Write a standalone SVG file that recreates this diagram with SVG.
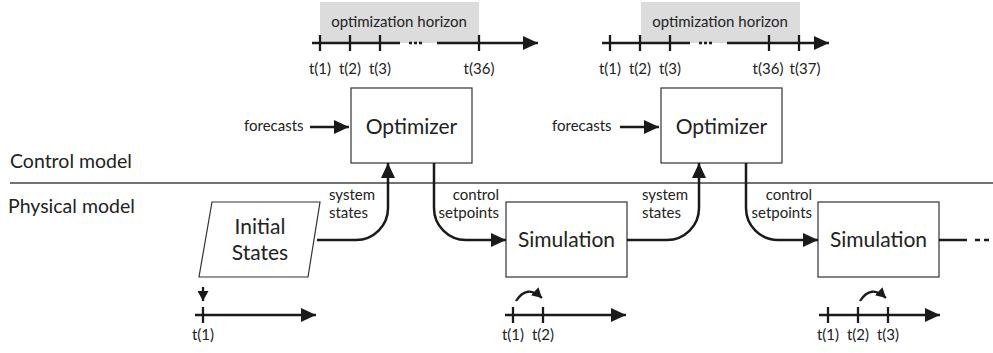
<svg xmlns="http://www.w3.org/2000/svg" width="993" height="353" viewBox="0 0 993 353">
<defs>
<style>
text{font-family:Lato,"Open Sans","Liberation Sans",sans-serif;fill:#222}
.lbl{font-size:15px}
.big{font-size:21px}
.sec{font-size:19.5px}
.box{fill:#fff;stroke:#333;stroke-width:1.2}
.ax{fill:none;stroke:#1a1a1a;stroke-width:2.3}
.tk{stroke:#1a1a1a;stroke-width:2.3}
.dots{stroke:#1a1a1a;stroke-width:2.5;stroke-dasharray:3 2}
.cn{fill:none;stroke:#1a1a1a;stroke-width:2.5}
</style>
<marker id="ah" markerUnits="userSpaceOnUse" markerWidth="16" markerHeight="14" refX="15" refY="7" orient="auto"><path d="M0,0 L15,7 L0,14 Z" fill="#1a1a1a"/></marker>
<marker id="ahs" markerUnits="userSpaceOnUse" markerWidth="11" markerHeight="11" refX="10" refY="5.5" orient="auto"><path d="M0,0 L10,5.5 L0,11 Z" fill="#1a1a1a"/></marker>
</defs>
<rect width="993" height="353" fill="#fff"/>

<g id="sections">
<line x1="10" y1="183" x2="993" y2="183" stroke="#444" stroke-width="1.3"/>
<text class="sec" x="10" y="168">Control model</text>
<text class="sec" x="8" y="213">Physical model</text>
</g>

<g id="horizon1">
<rect x="320" y="2" width="159" height="41" fill="#dcdcdc"/>
<text class="lbl" x="399" y="27" text-anchor="middle">optimization horizon</text>
<path class="ax" d="M312,43 H400 M437,43 H538" marker-end="url(#ah)"/>
<line class="dots" x1="409" y1="43" x2="423" y2="43"/>
<path class="tk" d="M320,35 V51 M350,35 V51 M380,35 V51 M479,35 V51"/>
<text class="lbl" x="320" y="74" text-anchor="middle">t(1)</text>
<text class="lbl" x="350" y="74" text-anchor="middle">t(2)</text>
<text class="lbl" x="380" y="74" text-anchor="middle">t(3)</text>
<text class="lbl" x="479" y="74" text-anchor="middle">t(36)</text>
</g>

<g id="horizon2">
<rect x="641" y="2" width="159" height="41" fill="#dcdcdc"/>
<text class="lbl" x="720" y="27" text-anchor="middle">optimization horizon</text>
<path class="ax" d="M602,43 H690 M727,43 H829" marker-end="url(#ah)"/>
<line class="dots" x1="699" y1="43" x2="713" y2="43"/>
<path class="tk" d="M610,35 V51 M640,35 V51 M670,35 V51 M769,35 V51 M799,35 V51"/>
<text class="lbl" x="610" y="74" text-anchor="middle">t(1)</text>
<text class="lbl" x="640" y="74" text-anchor="middle">t(2)</text>
<text class="lbl" x="670" y="74" text-anchor="middle">t(3)</text>
<text class="lbl" x="768" y="74" text-anchor="middle">t(36)</text>
<text class="lbl" x="805" y="74" text-anchor="middle">t(37)</text>
</g>

<g id="optimizer1">
<rect class="box" x="351" y="88" width="121" height="75"/>
<text class="big" x="411.5" y="134" text-anchor="middle">Optimizer</text>
</g>
<g id="optimizer2">
<rect class="box" x="661" y="88" width="121" height="75"/>
<text class="big" x="721.5" y="134" text-anchor="middle">Optimizer</text>
</g>
<g id="initial">
<polygon class="box" points="212,202 320,202 308,277 199,277"/>
<text class="big" x="260" y="234" text-anchor="middle">Initial</text>
<text class="big" x="260" y="260" text-anchor="middle">States</text>
</g>
<g id="simulation1">
<rect class="box" x="506" y="202" width="121" height="75"/>
<text class="big" x="566.5" y="247" text-anchor="middle">Simulation</text>
</g>
<g id="simulation2">
<rect class="box" x="818" y="202" width="121" height="75"/>
<text class="big" x="878.5" y="247" text-anchor="middle">Simulation</text>
</g>

<g id="connectors">
<path class="cn" d="M310,127 H349" marker-end="url(#ah)"/>
<text class="lbl" x="244" y="131">forecasts</text>
<path class="cn" d="M620,127 H659" marker-end="url(#ah)"/>
<text class="lbl" x="552" y="131">forecasts</text>

<path class="cn" d="M317,240 H356 A32,32 0 0 0 388,208 V163" marker-end="url(#ah)"/>
<text class="lbl" x="329" y="200">system</text>
<text class="lbl" x="329" y="218">states</text>
<path class="cn" d="M434,163 V208 A32,32 0 0 0 466,240 H506" marker-end="url(#ah)"/>
<text class="lbl" x="499" y="200" text-anchor="end">control</text>
<text class="lbl" x="499" y="218" text-anchor="end">setpoints</text>

<path class="cn" d="M627,240 H667 A32,32 0 0 0 699,208 V163" marker-end="url(#ah)"/>
<text class="lbl" x="642" y="200">system</text>
<text class="lbl" x="642" y="218">states</text>
<path class="cn" d="M746,163 V208 A32,32 0 0 0 778,240 H818" marker-end="url(#ah)"/>
<text class="lbl" x="812" y="200" text-anchor="end">control</text>
<text class="lbl" x="812" y="218" text-anchor="end">setpoints</text>

<path class="cn" d="M939,240 H967 M975,240 H980 M984,240 H989" stroke-width="2"/>
</g>

<g id="timeline1">
<path class="ax" d="M203,287 V301" marker-end="url(#ahs)"/>
<path class="ax" d="M195,315 H316" marker-end="url(#ah)"/>
<path class="tk" d="M203,307 V323"/>
<text class="lbl" x="203" y="340" text-anchor="middle">t(1)</text>
</g>
<g id="timeline2">
<path class="ax" d="M516,301 Q527,284 542,298" marker-end="url(#ahs)"/>
<path class="ax" d="M505,315 H626" marker-end="url(#ah)"/>
<path class="tk" d="M513,307 V323 M543,307 V323"/>
<text class="lbl" x="513" y="340" text-anchor="middle">t(1)</text>
<text class="lbl" x="543" y="340" text-anchor="middle">t(2)</text>
</g>
<g id="timeline3">
<path class="ax" d="M860,301 Q871,284 886,298" marker-end="url(#ahs)"/>
<path class="ax" d="M819,315 H940" marker-end="url(#ah)"/>
<path class="tk" d="M828,307 V323 M858,307 V323 M888,307 V323"/>
<text class="lbl" x="828" y="340" text-anchor="middle">t(1)</text>
<text class="lbl" x="858" y="340" text-anchor="middle">t(2)</text>
<text class="lbl" x="888" y="340" text-anchor="middle">t(3)</text>
</g>
</svg>
